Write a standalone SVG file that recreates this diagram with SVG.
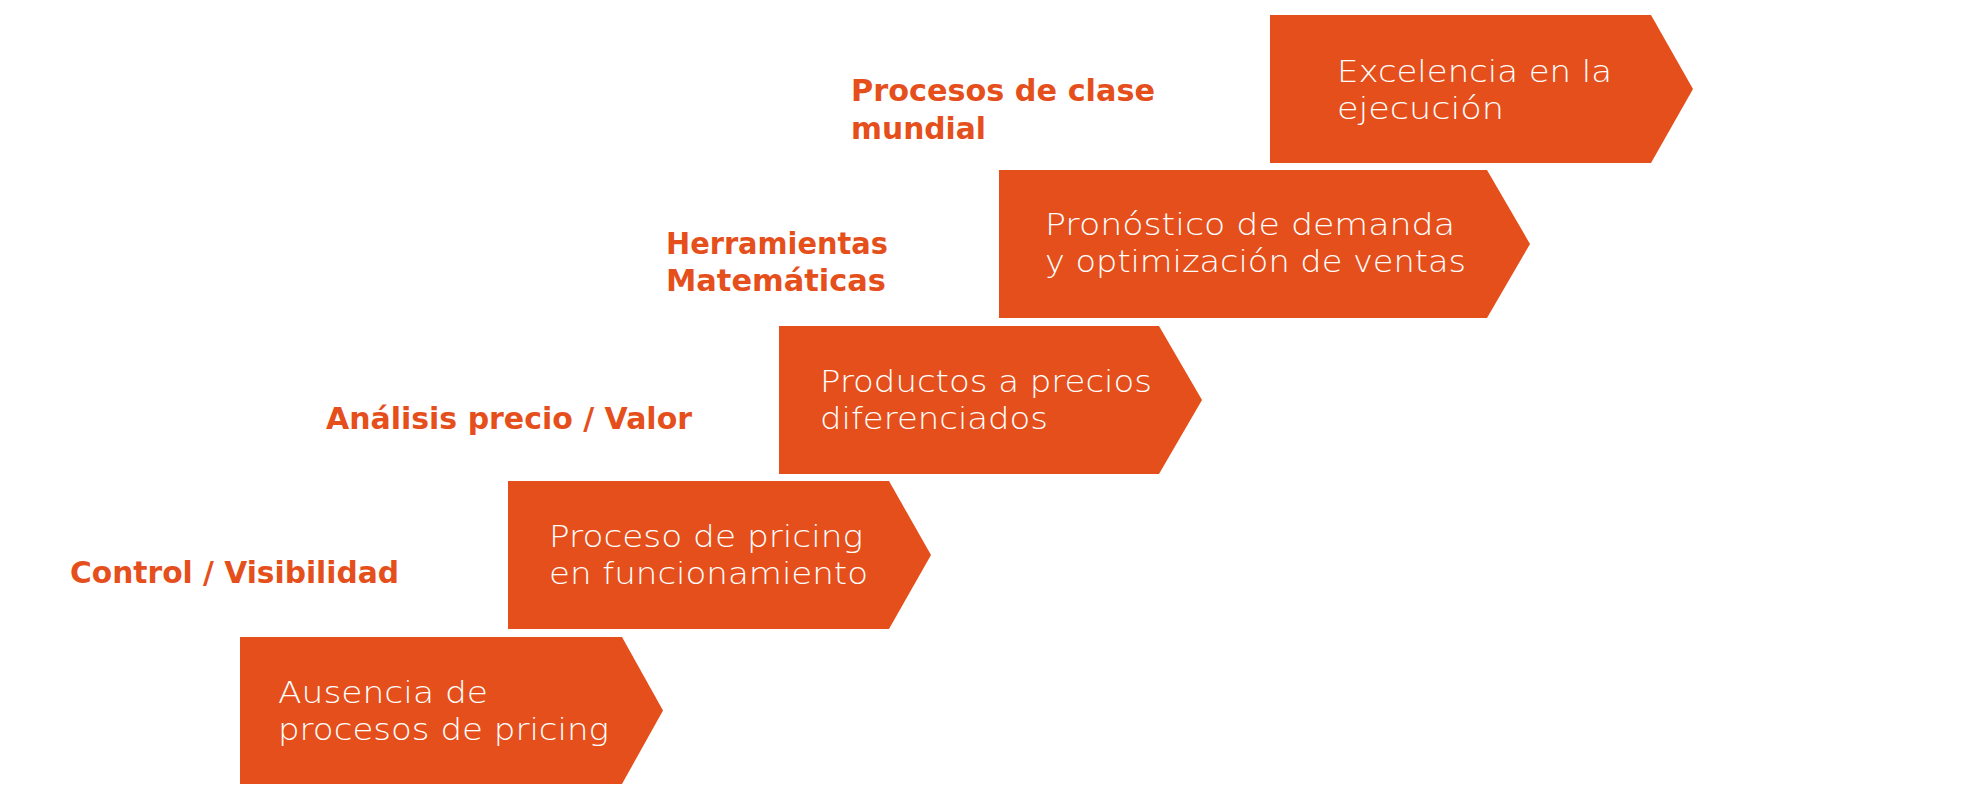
<svg xmlns="http://www.w3.org/2000/svg" width="1980" height="800" viewBox="0 0 1980 800">
<style>
.box{fill:#E54F1C;}
.bt{fill:#FFFFFF;font-family:"DejaVu Sans","Liberation Sans",sans-serif;font-weight:300;font-size:31px;}
.lb{fill:#E54F1C;font-family:"DejaVu Sans","Liberation Sans",sans-serif;font-weight:bold;font-size:31px;}
</style>
<rect x="0" y="0" width="1980" height="800" fill="#FFFFFF"/>
<g id="connectors"></g>
<g id="step1">
<polygon class="box" points="240,637 622,637 663,710.5 622,784 240,784"/>
<text class="bt" x="278" y="703" textLength="210" lengthAdjust="spacingAndGlyphs">Ausencia de</text>
<text class="bt" x="278" y="740" textLength="331" lengthAdjust="spacingAndGlyphs">procesos de pricing</text>
</g>
<g id="step2">
<polygon class="box" points="508,481 889,481 931,555 889,629 508,629"/>
<text class="bt" x="549" y="547" textLength="314" lengthAdjust="spacingAndGlyphs">Proceso de pricing</text>
<text class="bt" x="549" y="584" textLength="319" lengthAdjust="spacingAndGlyphs">en funcionamiento</text>
</g>
<g id="step3">
<polygon class="box" points="779,326 1159,326 1202,400 1159,474 779,474"/>
<text class="bt" x="820" y="392" textLength="332" lengthAdjust="spacingAndGlyphs">Productos a precios</text>
<text class="bt" x="820" y="429" textLength="228" lengthAdjust="spacingAndGlyphs">diferenciados</text>
</g>
<g id="step4">
<polygon class="box" points="999,170 1487,170 1530,244 1487,318 999,318"/>
<text class="bt" x="1045" y="235" textLength="410" lengthAdjust="spacingAndGlyphs">Pronóstico de demanda</text>
<text class="bt" x="1045" y="272" textLength="421" lengthAdjust="spacingAndGlyphs">y optimización de ventas</text>
</g>
<g id="step5">
<polygon class="box" points="1270,15 1651,15 1693,89 1651,163 1270,163"/>
<text class="bt" x="1337" y="82" textLength="275" lengthAdjust="spacingAndGlyphs">Excelencia en la</text>
<text class="bt" x="1337" y="119" textLength="167" lengthAdjust="spacingAndGlyphs">ejecución</text>
</g>
<g id="label1">
<text class="lb" x="70" y="583" textLength="329" lengthAdjust="spacingAndGlyphs">Control / Visibilidad</text>
</g>
<g id="label2">
<text class="lb" x="326" y="429" textLength="366" lengthAdjust="spacingAndGlyphs">Análisis precio / Valor</text>
</g>
<g id="label3">
<text class="lb" x="666" y="254" textLength="222" lengthAdjust="spacingAndGlyphs">Herramientas</text>
<text class="lb" x="666" y="291" textLength="220" lengthAdjust="spacingAndGlyphs">Matemáticas</text>
</g>
<g id="label4">
<text class="lb" x="851" y="101" textLength="304" lengthAdjust="spacingAndGlyphs">Procesos de clase</text>
<text class="lb" x="851" y="139" textLength="135" lengthAdjust="spacingAndGlyphs">mundial</text>
</g>
</svg>
